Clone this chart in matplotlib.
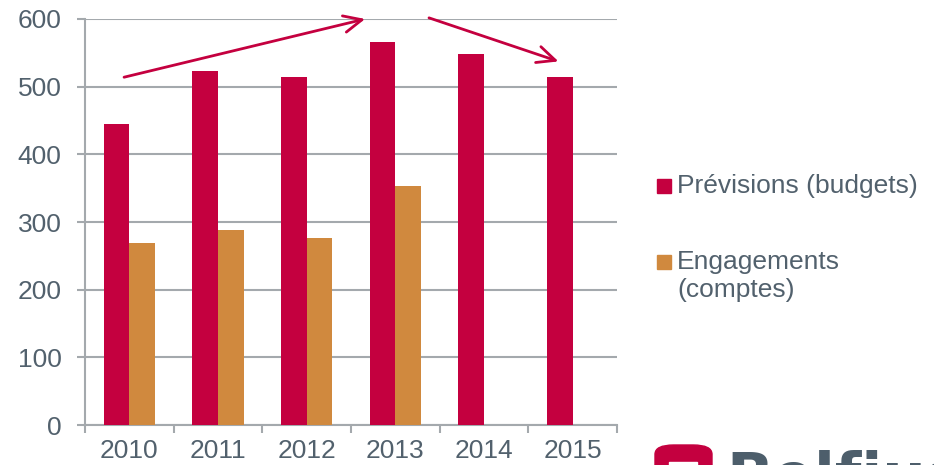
import numpy as np
import matplotlib
matplotlib.use('Agg')
import matplotlib.pyplot as plt
from matplotlib.patches import FancyBboxPatch, Rectangle

plt.rcParams['font.family'] = ['Liberation Sans', 'DejaVu Sans']

# Data
years = ['2010', '2011', '2012', '2013', '2014', '2015']
previsions = [445, 523, 515, 566, 548, 515]
engagements = [269, 288, 276, 353, 0, 0]
labels = ['Prévisions (budgets)', 'Engagements\n(comptes)']

magenta = '#C4003F'
orange = '#D0893E'
grid_col = '#A4A9AD'
text_col = '#52616D'

fig = plt.figure(figsize=(9.34, 4.65), dpi=100)
ax = fig.add_axes([85 / 934, 40 / 465, 532 / 934, 406 / 465])

x = np.arange(len(years))
w = 0.29
b1 = ax.bar(x - w / 2, previsions, w, color=magenta, label=labels[0], zorder=3)
eng = [v if v > 0 else np.nan for v in engagements]
b2 = ax.bar(x + w / 2, eng, w, color=orange, label=labels[1], zorder=3)

ax.set_xlim(-0.5, len(years) - 0.5)
ax.set_ylim(0, 600)
ax.set_yticks(range(0, 601, 100))
ax.yaxis.grid(True, color=grid_col, linewidth=1.5, zorder=0)
ax.set_axisbelow(True)

# category boundary ticks + centred labels
ax.set_xticks(np.arange(-0.5, len(years), 1.0))
ax.set_xticklabels([])
ax.set_xticks(x, minor=True)
ax.set_xticklabels(years, minor=True)
ax.tick_params(axis='x', which='major', length=6, width=1.5, color=grid_col)
ax.tick_params(axis='x', which='minor', length=0, pad=10, labelsize=19, labelcolor=text_col)
ax.tick_params(axis='y', length=6, width=1.5, color=grid_col, pad=11,
               labelsize=19, labelcolor=text_col)

for s in ['top', 'right']:
    ax.spines[s].set_visible(False)
for s in ['left', 'bottom']:
    ax.spines[s].set_color(grid_col)
    ax.spines[s].set_linewidth(1.5)

# trend arrows
arrow_kw = dict(arrowstyle='->,head_length=1.3,head_width=0.6', color=magenta, lw=2)
ax.annotate('', xy=(2.69, 601), xytext=(-0.09, 513), arrowprops=arrow_kw,
            annotation_clip=False)
ax.annotate('', xy=(4.87, 536), xytext=(3.35, 603), arrowprops=arrow_kw,
            annotation_clip=False)

# legend, drawn by hand so the square sits on the first line of each label
H = 465.0
for (bars, lab, sq_top) in [(b1, labels[0], 179), (b2, labels[1], 255)]:
    fc = bars.patches[0].get_facecolor()
    base = sq_top + 14
    fig.patches.append(Rectangle((657 / 934, 1 - base / H), 14 / 934, 14 / H,
                                 transform=fig.transFigure, color=fc))
    for i, line in enumerate(lab.split('\n')):
        fig.text(677 / 934, 1 - (base + i * 28) / H, line, fontsize=19,
                 color=text_col, ha='left', va='baseline')

# logo (cut off at the bottom)
fig.patches.append(FancyBboxPatch((655 / 934, -40 / H), 57 / 934, 60 / H,
                                  boxstyle='round,pad=0,rounding_size=0.02',
                                  transform=fig.transFigure, color=magenta))
fig.patches.append(Rectangle((669 / 934, -10 / H), 28 / 934, 13 / H,
                             transform=fig.transFigure, color='white'))
fig.text(726 / 934, 1 - 450 / H, 'Belfius', fontsize=44, fontweight='bold',
         color='#4D5E6B', ha='left', va='top', family='DejaVu Sans')

fig.savefig('out.png', dpi=100)
